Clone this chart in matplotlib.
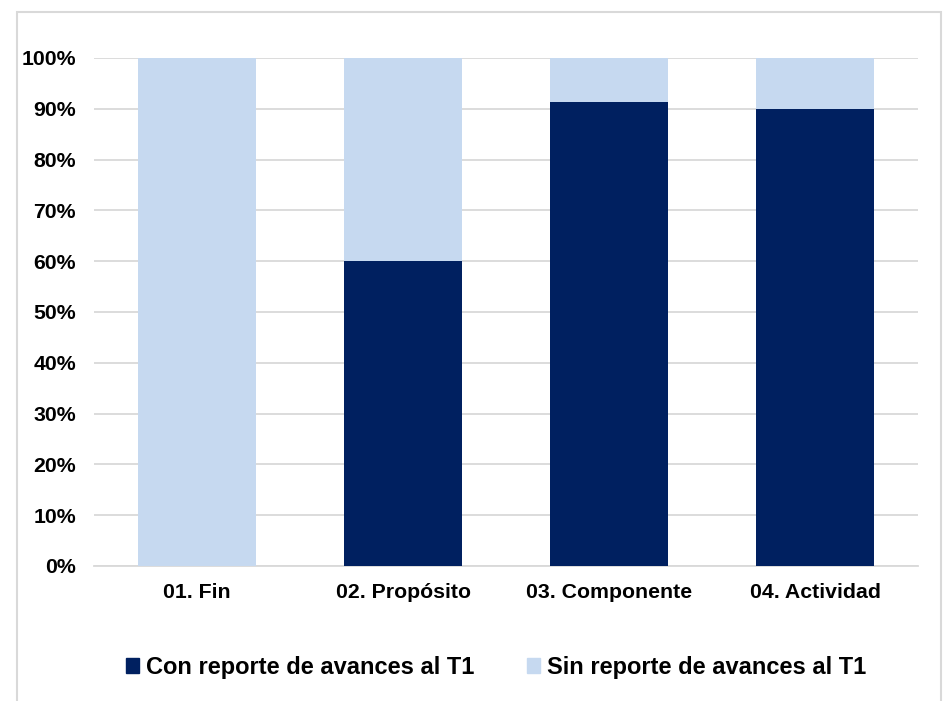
import matplotlib
matplotlib.use("Agg")
import matplotlib.pyplot as plt
from matplotlib.patches import Patch, Rectangle
from matplotlib.ticker import PercentFormatter
import numpy as np

# data
categories = ["01. Fin", "02. Propósito", "03. Componente", "04. Actividad"]
con_reporte = [0.0, 60.0, 91.3, 90.0]
sin_reporte = [100.0, 40.0, 8.7, 10.0]
series_names = ["Con reporte de avances al T1", "Sin reporte de avances al T1"]

dark = "#002060"
light = "#C6D9F0"
grid_gray = "#D9D9D9"

plt.rcParams['font.family'] = ['Liberation Sans', 'DejaVu Sans']
plt.rcParams['font.weight'] = 'bold'

fig = plt.figure(figsize=(9.45, 7.01), dpi=100)
ax = fig.add_axes([0.0995, 0.1926, 0.872, 0.7247])

x = np.arange(len(categories))
con = np.array(con_reporte) / 100
sin = np.array(sin_reporte) / 100
ax.bar(x, con, width=0.57, color=dark, zorder=3)
ax.bar(x, sin, width=0.57, bottom=con, color=light, zorder=3)

ax.set_xlim(-0.5, len(categories) - 0.5)
ax.set_ylim(0, 1)
ax.set_yticks(np.arange(0, 1.01, 0.1))
ax.yaxis.set_major_formatter(PercentFormatter(1.0, decimals=0))
ax.set_xticks(x)
ax.set_xticklabels(categories)
ax.tick_params(axis='both', length=0, labelsize=15.3)
ax.tick_params(axis='y', pad=13)
ax.tick_params(axis='x', pad=12)
ax.grid(axis='y', color=grid_gray, linewidth=1.3, zorder=0)
for side in ['top', 'right', 'left']:
    ax.spines[side].set_visible(False)
ax.spines['bottom'].set_color(grid_gray)
ax.spines['bottom'].set_linewidth(1.3)

handles = [Patch(color=dark), Patch(color=light)]
fig.legend(handles, series_names, loc='center', bbox_to_anchor=(0.525, 0.048),
           ncol=2, frameon=False, fontsize=17, handlelength=0.55,
           handleheight=0.55, handletextpad=0.3, columnspacing=2.2)

# outer chart frame
frame = Rectangle((17 / 945, -0.05), (941 - 17) / 945, 1.05 - 12 / 701,
                  transform=fig.transFigure, fill=False,
                  edgecolor="#D9D9D9", linewidth=1.5, clip_on=False)
fig.patches.append(frame)

fig.savefig("out.png", dpi=100)
